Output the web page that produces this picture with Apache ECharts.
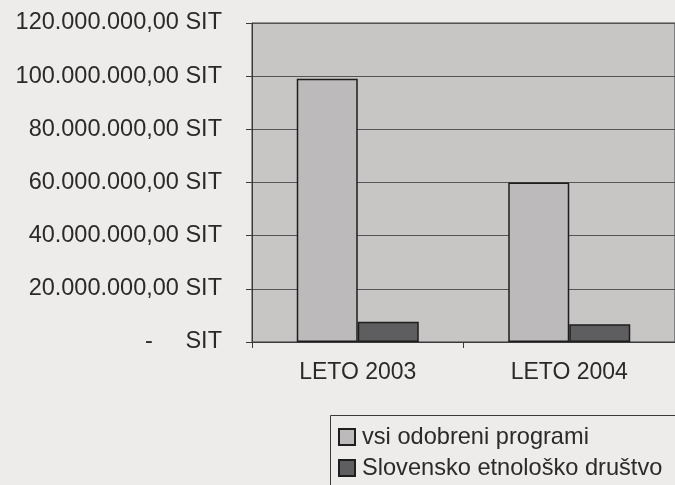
<!DOCTYPE html>
<html>
<head>
<meta charset="utf-8">
<script src="https://cdn.jsdelivr.net/npm/echarts@6/dist/echarts.min.js"></script>
<style>
html,body{margin:0;padding:0;background:#eeecea;}
#c{width:675px;height:485px;}
</style>
</head>
<body>
<div id="c"></div>
<script>
var categories = ['LETO 2003', 'LETO 2004'];
var seriesNames = ['vsi odobreni programi', 'Slovensko etnološko društvo'];
var vsiOdobreni = [99000000, 60000000];
var sed = [7600000, 6700000];
var yMin = 0, yMax = 120000000, yStep = 20000000;

function fmt(v) {
  if (v === 0) return '-     SIT';
  var s = String(Math.round(v));
  var out = '';
  while (s.length > 3) { out = '.' + s.slice(-3) + out; s = s.slice(0, -3); }
  return s + out + ',00 SIT';
}

var chart = echarts.init(document.getElementById('c'), null, {renderer: 'canvas'});
var font = 'Liberation Sans, Arial, sans-serif';
chart.setOption({
  backgroundColor: '#eeecea',
  animation: false,
  textStyle: {fontFamily: font},
  grid: {
    left: 252, top: 23, width: 425, height: 319,
    show: true, backgroundColor: '#c8c6c5', borderColor: '#3a3a3a', borderWidth: 1
  },
  graphic: [{
    type: 'rect', left: 330, top: 415, silent: true,
    shape: {width: 400, height: 120},
    style: {fill: 'transparent', stroke: '#3a3a3a', lineWidth: 1}
  }],
  legend: {
    orient: 'vertical', left: 330, top: 415,
    padding: [10, 0, 0, 8],
    itemWidth: 16, itemHeight: 16, itemGap: 7,
    icon: 'rect',
    textStyle: {fontSize: 23.6, color: '#2a2a2a', fontFamily: font, padding: [0, 0, 0, 2]},
    data: seriesNames
  },
  xAxis: {
    type: 'category', data: categories,
    axisLine: {lineStyle: {color: '#3a3a3a', width: 1}},
    axisTick: {show: true, length: 6, lineStyle: {color: '#3a3a3a'}},
    axisLabel: {fontSize: 23, color: '#2a2a2a', margin: 19, fontFamily: font}
  },
  yAxis: {
    type: 'value', min: yMin, max: yMax, interval: yStep,
    axisLine: {show: true, lineStyle: {color: '#3a3a3a', width: 1}},
    axisTick: {show: true, length: 6, lineStyle: {color: '#3a3a3a'}},
    splitLine: {show: true, lineStyle: {color: '#555555', width: 1}},
    axisLabel: {fontSize: 23.5, color: '#2a2a2a', margin: 30, fontFamily: font, formatter: fmt}
  },
  series: [
    {
      name: seriesNames[0], type: 'bar', data: vsiOdobreni,
      barWidth: 61, barGap: '0%',
      itemStyle: {color: '#bcbaba', borderColor: '#1e1e1e', borderWidth: 1.5}
    },
    {
      name: seriesNames[1], type: 'bar', data: sed,
      barWidth: 61,
      itemStyle: {color: '#5e5d5f', borderColor: '#1e1e1e', borderWidth: 1.5}
    }
  ]
});
</script>
</body>
</html>
